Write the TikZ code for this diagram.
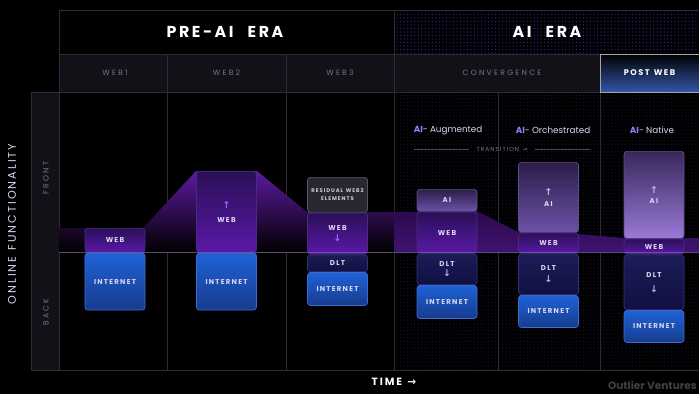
\documentclass[tikz,border=0pt]{standalone}
\usepackage{fontspec}
\setmainfont{Poppins}
\newfontfamily\spaced[LetterSpace=18, WordSpace=1.3]{Poppins}
\newfontfamily\wide[LetterSpace=30, WordSpace=2]{Poppins}
\newfontfamily\erafont[LetterSpace=16, WordSpace=2.4]{Poppins}
\newfontfamily\arrowfont{DejaVu Sans}
\usetikzlibrary{positioning, patterns}

\definecolor{gridc}{HTML}{2E2A38}
\definecolor{subfill}{HTML}{131118}
\definecolor{subtext}{HTML}{7A7090}
\definecolor{labelc}{HTML}{DCD8F0}
\definecolor{dothead}{HTML}{3A2CB8}
\definecolor{dotmain}{HTML}{18143E}
\definecolor{mnttop}{HTML}{5C1A9E}
\definecolor{mntlow}{HTML}{2A0A4C}
\definecolor{midc}{HTML}{7A68A8}
\definecolor{nettop}{HTML}{1F62D6}
\definecolor{netbot}{HTML}{173B8E}
\definecolor{netline}{HTML}{3C6CD2}
\definecolor{webtop}{HTML}{2A1056}
\definecolor{webbot}{HTML}{5A18A8}
\definecolor{webline}{HTML}{4A2A80}
\definecolor{dlttop}{HTML}{1C1C58}
\definecolor{dltbot}{HTML}{111040}
\definecolor{dltline}{HTML}{34347C}
\definecolor{aitop}{HTML}{2C1D48}
\definecolor{aibot}{HTML}{6C52A8}
\definecolor{natbot}{HTML}{9A7AD8}
\definecolor{ailine}{HTML}{5E4E88}
\definecolor{resfill}{HTML}{29272F}
\definecolor{webarr}{HTML}{9B6BFF}
\definecolor{aiarr}{HTML}{C8B8FF}
\definecolor{dltarr}{HTML}{A8B8FF}
\definecolor{aipurple}{HTML}{9A7AFF}
\definecolor{postblue}{HTML}{3356A8}
\definecolor{brand}{HTML}{404045}

\newcommand\uparr[1]{\textcolor{#1}{\fontsize{8}{9}\selectfont\arrowfont ↑}}
\newcommand\dnarr[1]{\textcolor{#1}{\fontsize{8}{9}\selectfont\arrowfont ↓}}

\begin{document}
\begin{tikzpicture}[x=0.03cm,y=-0.03cm]
\tikzstyle{every node}=[text=labelc, inner sep=0pt]
\tikzstyle{gridline}=[gridc, semithick]
\tikzstyle{era}=[text=white, font=\fontsize{13.5}{16}\selectfont\bfseries\erafont]
\tikzstyle{col}=[text=subtext, font=\fontsize{6.5}{8}\selectfont\wide]
\tikzstyle{seg}=[rounded corners=2.5pt, minimum width=1.8cm, semithick, align=center, font=\fontsize{6}{9}\selectfont\bfseries\spaced]
\tikzstyle{net}=[seg, draw=netline, top color=nettop, bottom color=netbot]
\tikzstyle{web}=[seg, draw=webline, top color=webtop, bottom color=webbot]
\tikzstyle{dlt}=[seg, draw=dltline, top color=dlttop, bottom color=dltbot]
\tikzstyle{ai}=[seg, draw=ailine, top color=aitop, bottom color=aibot]
\tikzstyle{ainat}=[seg, draw=ailine, top color=aitop!80!aibot, bottom color=natbot]
\tikzstyle{resid}=[seg, draw=gridc!80!white, fill=resfill, text=labelc!85!gray, font=\fontsize{4.5}{7}\selectfont\bfseries\spaced]
\tikzstyle{kind}=[font=\fontsize{7.5}{9}\selectfont]

\useasboundingbox (0,0) rectangle (699,394);
\fill[black] (0,0) rectangle (699,394);
\fill[pattern=dots, pattern color=dothead] (394,10) rectangle (699,54);
\fill[pattern=dots, pattern color=dotmain] (394,92) rectangle (699,370);
\fill[subfill] (59,54) rectangle (699,92);
\fill[subfill] (31,92) rectangle (59,370);

\draw[gridline] (59,10) -- (699,10) (59,10) -- (59,370) (59,54) -- (699,54)
  (31,92) -- (699,92) (31,92) -- (31,370) -- (699,370)
  (167,54) -- (167,370) (286,54) -- (286,370) (394,10) -- (394,370)
  (498,92) -- (498,370) (600,54) -- (600,370);

\node[era] (pre) at (225,32) {PRE-AI ERA};
\node[era] (aiera) at (547,32) {AI ERA};
\node[col] (web1) at (115,73) {WEB1};
\node[col] (web2) at (226.5,73) {WEB2};
\node[col] (web3) at (340,73) {WEB3};
\node[col] (conv) at (502,73) {CONVERGENCE};
\node[draw=gray!70, semithick, top color=black, bottom color=postblue, minimum width=2.97cm, minimum height=1.14cm, text=white, font=\fontsize{7}{8}\selectfont\bfseries\spaced] (post) at (649.5,73) {POST WEB};

\node[rotate=90, text=labelc, font=\fontsize{9.5}{12}\selectfont\spaced] (online) at (12,224) {ONLINE FUNCTIONALITY};
\node[rotate=90, col] (front) at (46,178) {FRONT};
\node[rotate=90, col] (back) at (46,312) {BACK};

\fill[top color=mnttop, bottom color=black] (59,228) -- (143,228) -- (196,171) -- (257,171) -- (307,212) -- (394,212) -- (394,252) -- (59,252) -- cycle;
\fill[top color=mntlow, bottom color=mnttop!70!black] (394,212) -- (417,212) -- (477,211) -- (518,232) -- (579,234) -- (624,238) -- (699,238) -- (699,252) -- (394,252) -- cycle;

\node[kind] (aug) at (448,130) {\textcolor{aipurple}{\bfseries AI}- Augmented};
\node[kind] (orch) at (553,130) {\textcolor{aipurple}{\bfseries AI}- Orchestrated};
\node[kind] (nat) at (652,130) {\textcolor{aipurple}{\bfseries AI}- Native};
\coordinate (t1) at (414,149);
\coordinate (t2) at (590,149);
\node[inner xsep=6pt, text=gray, font=\fontsize{5}{6}\selectfont\spaced] (trans) at (502,149) {TRANSITION {\arrowfont →}};
\draw[gray!60!black] (t1) -- (trans.west) (trans.east) -- (t2);

\node[web, minimum height=0.72cm, anchor=north] (w1) at (115,228) {WEB};
\node[net, minimum height=1.71cm, below=0pt of w1] (i1) {INTERNET};

\node[web, minimum height=2.43cm, anchor=north] (w2) at (226.5,171) {\uparr{webarr}\\[3pt]WEB};
\node[net, minimum height=1.71cm, below=0pt of w2] (i2) {INTERNET};

\node[resid, minimum height=1.05cm, anchor=north] (r3) at (337.5,177) {RESIDUAL WEB2\\ELEMENTS};
\node[web, minimum height=1.23cm, below=0pt of r3] (w3) {WEB\\[1pt]\dnarr{webarr}};
\node[dlt, minimum height=0.51cm, below=0pt of w3] (d3) {DLT};
\node[net, minimum height=0.99cm, below=0pt of d3] (i3) {INTERNET};

\node[ai, minimum height=0.66cm, anchor=north] (a4) at (447,189) {AI};
\node[web, minimum height=1.23cm, below=0pt of a4] (w4) {WEB};
\node[dlt, minimum height=0.93cm, below=0pt of w4] (d4) {DLT\\\dnarr{dltarr}};
\node[net, minimum height=0.99cm, below=0pt of d4] (i4) {INTERNET};

\node[ai, minimum height=2.1cm, anchor=north] (a5) at (548.5,162) {\uparr{aiarr}\\AI};
\node[web, minimum height=0.6cm, below=0pt of a5] (w5) {WEB};
\node[dlt, minimum height=1.23cm, below=0pt of w5] (d5) {DLT\\[1pt]\dnarr{dltarr}};
\node[net, minimum height=0.96cm, below=0pt of d5] (i5) {INTERNET};

\node[ainat, minimum height=2.61cm, anchor=north] (a6) at (654,151) {\uparr{aiarr}\\AI};
\node[web, minimum height=0.45cm, below=0pt of a6] (w6) {WEB};
\node[dlt, minimum height=1.65cm, below=0pt of w6] (d6) {DLT\\[4pt]\dnarr{dltarr}};
\node[net, minimum height=0.96cm, below=0pt of d6] (i6) {INTERNET};

\draw[midc, opacity=0.7] (59,252) -- (699,252);

\node[text=white, font=\fontsize{9}{10}\selectfont\bfseries\spaced] (time) at (394,382) {TIME {\arrowfont →}};
\node[anchor=east, text=brand, font=\fontsize{9}{10}\selectfont\bfseries] (ov) at (697,385) {Outlier Ventures};
\end{tikzpicture}
\end{document}
